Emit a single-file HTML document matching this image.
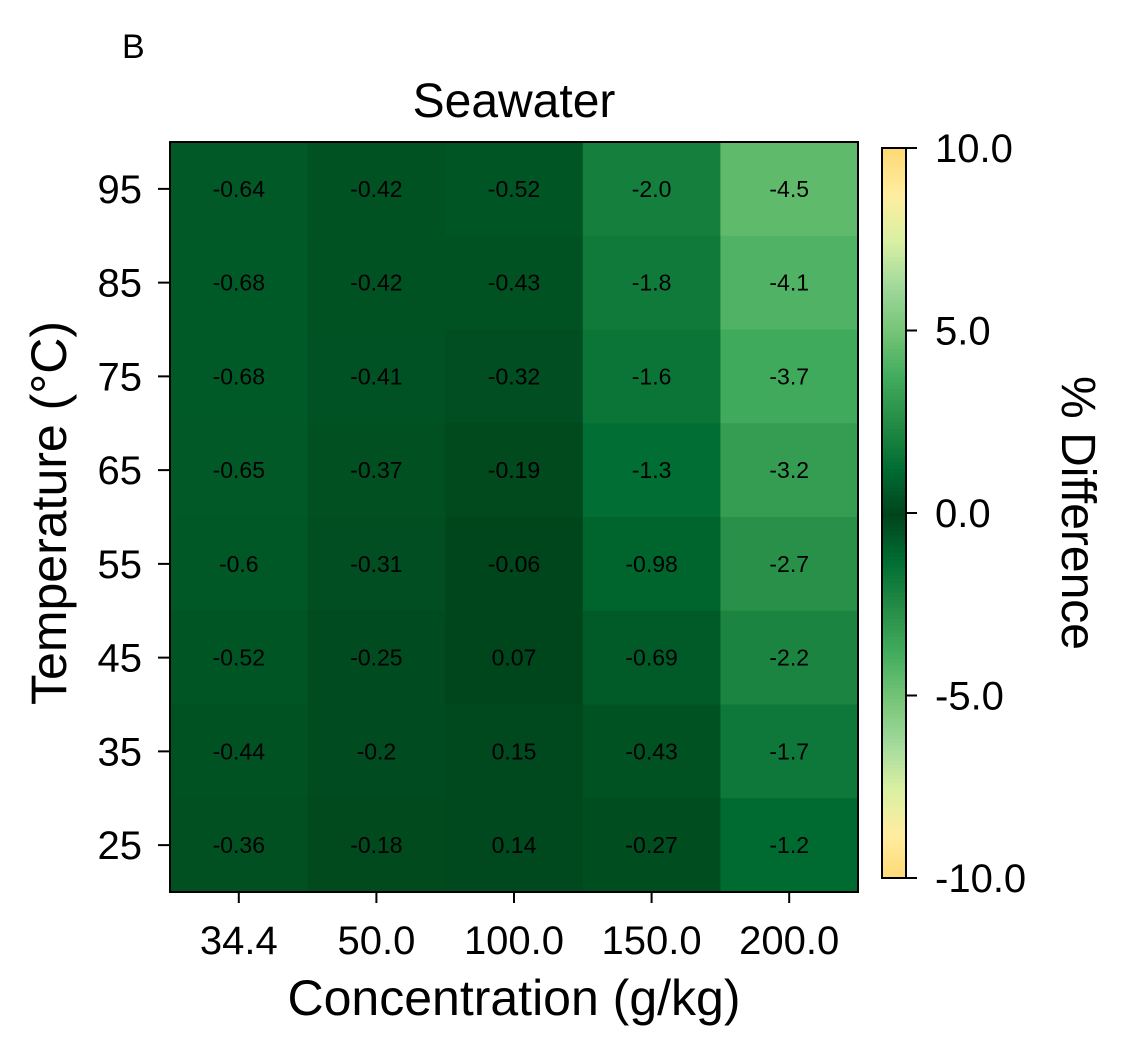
<!DOCTYPE html>
<html><head><meta charset="utf-8"><style>
body{margin:0;background:#fff;font-family:"Liberation Sans",Arial,sans-serif}
</style></head><body>
<svg id="chart" width="1131" height="1055" xmlns="http://www.w3.org/2000/svg">
<text x="122" y="58" font-size="34">B</text>
<text x="514" y="117" font-size="48" text-anchor="middle">Seawater</text>
<g id="cells"></g>
<rect x="170" y="142" width="688" height="750" fill="none" stroke="#000" stroke-width="2"/>
<g id="axes" font-size="40"></g>
<text x="514" y="1015" font-size="50" text-anchor="middle">Concentration (g/kg)</text>
<text transform="translate(66,513) rotate(-90)" font-size="50" text-anchor="middle">Temperature (°C)</text>
<g id="cbar"></g>
<text transform="translate(1062,513) rotate(90)" font-size="48" text-anchor="middle">% Difference</text>
</svg>
<script>
const concentrations=["34.4","50.0","100.0","150.0","200.0"];
const temperatures=["95","85","75","65","55","45","35","25"];
const row95=[-0.64,-0.42,-0.52,-2.0,-4.5];
const row85=[-0.68,-0.42,-0.43,-1.8,-4.1];
const row75=[-0.68,-0.41,-0.32,-1.6,-3.7];
const row65=[-0.65,-0.37,-0.19,-1.3,-3.2];
const row55=[-0.6,-0.31,-0.06,-0.98,-2.7];
const row45=[-0.52,-0.25,0.07,-0.69,-2.2];
const row35=[-0.44,-0.2,0.15,-0.43,-1.7];
const row25=[-0.36,-0.18,0.14,-0.27,-1.2];
const cbTicks=[10,5,0,-5,-10];
const values=[row95,row85,row75,row65,row55,row45,row35,row25];
const NS="http://www.w3.org/2000/svg";
const X0=170,Y0=142,W=688,H=750;
const cw=W/concentrations.length, rh=H/temperatures.length;
const xPos=i=>X0+cw*(i+0.5), yPos=j=>Y0+rh*(j+0.5);
const stops=["#00441b","#006d32","#238b45","#41ab5d","#74c476","#a1d99b","#d9f0a3","#ffeda0","#fed976"];
function hex(c){return [1,3,5].map(k=>parseInt(c.substr(k,2),16));}
function color(v){let t=Math.min(1,Math.abs(v)/10)*(stops.length-1);let i=Math.min(stops.length-2,Math.floor(t));let f=t-i;
 const a=hex(stops[i]),b=hex(stops[i+1]);return "rgb("+a.map((x,k)=>Math.round(x+(b[k]-x)*f)).join(",")+")";}
function fmt(v){const s=String(v);return (Math.abs(v)>=1&&s.indexOf('.')<0)?v.toFixed(1):s;}
function mk(tag,attrs,parent){const e=document.createElementNS(NS,tag);for(const k in attrs)e.setAttribute(k,attrs[k]);parent.appendChild(e);return e;}
const cells=document.getElementById('cells');
values.forEach((row,j)=>row.forEach((v,i)=>{
 const r=mk('rect',{x:X0+cw*i,y:Y0+rh*j,width:cw+0.5,height:rh+0.5,fill:color(v)},cells);
 
 
 const t=mk('text',{x:xPos(i),y:yPos(j)+8,'font-size':23,'text-anchor':'middle'},cells);
 t.textContent=fmt(v);
 
 
}));
const axes=document.getElementById('axes');
concentrations.forEach((c,i)=>{
 mk('line',{x1:xPos(i),x2:xPos(i),y1:892,y2:903,stroke:'#000','stroke-width':2},axes);
 const t=mk('text',{x:xPos(i),y:954,'text-anchor':'middle'},axes);t.textContent=c;
 
 
});
temperatures.forEach((c,j)=>{
 mk('line',{x1:158,x2:170,y1:yPos(j),y2:yPos(j),stroke:'#000','stroke-width':2},axes);
 const t=mk('text',{x:142,y:yPos(j)+14,'text-anchor':'end'},axes);t.textContent=c;
 
 
});
const cb=document.getElementById('cbar');
const CY0=148,CY1=878,CX=882,CW=24;
const cbY=v=>CY0+(10-v)/20*(CY1-CY0);
for(let k=0;k<200;k++){const v=10-20*k/200;
 mk('rect',{x:CX,y:cbY(v),width:CW,height:(CY1-CY0)/200+0.6,fill:color(v)},cb);}
const fr=mk('rect',{x:CX,y:CY0,width:CW,height:CY1-CY0,fill:'none',stroke:'#000','stroke-width':2},cb);


cbTicks.forEach(v=>{
 mk('line',{x1:CX+CW,x2:CX+CW+11,y1:cbY(v),y2:cbY(v),stroke:'#000','stroke-width':2},cb);
 const t=mk('text',{x:935,y:cbY(v)+14,'font-size':40},cb);t.textContent=v.toFixed(1);
 
 
});
</script>
</body></html>
